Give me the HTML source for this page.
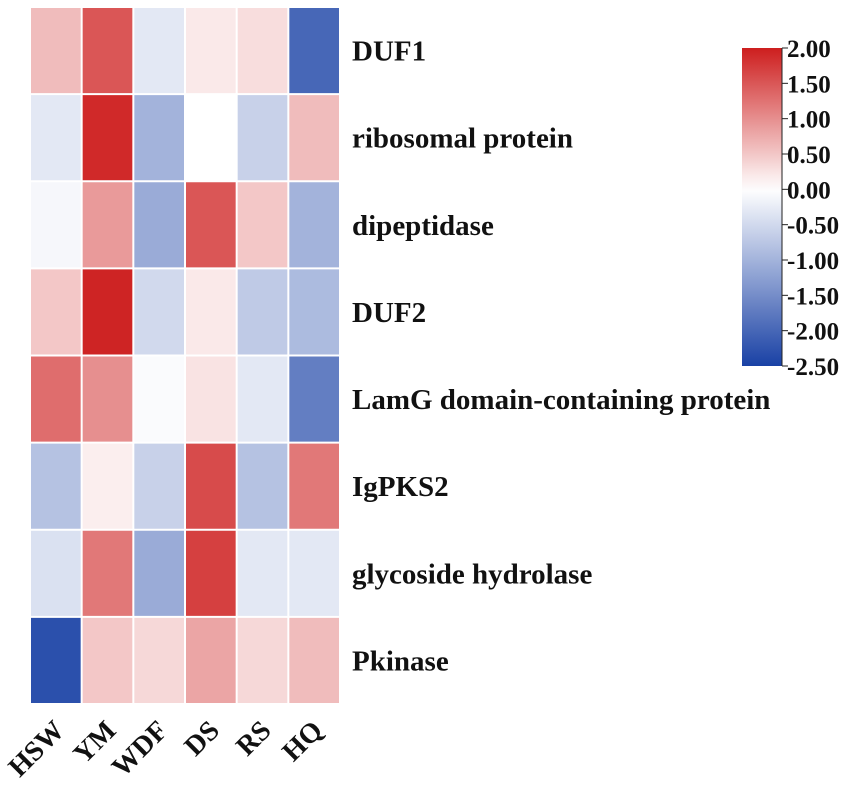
<!DOCTYPE html>
<html><head><meta charset="utf-8"><style>
body{margin:0;background:#fff;}
svg text{font-family:"Liberation Serif",serif;font-weight:bold;fill:#111;}
</style></head><body>
<svg id="chart" width="851" height="786" xmlns="http://www.w3.org/2000/svg"></svg>
<script>
const columns = ["HSW","YM","WDF","DS","RS","HQ"];
const rows = ["DUF1","ribosomal protein","dipeptidase","DUF2","LamG domain-containing protein","IgPKS2","glycoside hydrolase","Pkinase"];
const values = [
 [0.6, 1.5, -0.3, 0.2, 0.3, -2.0],
 [-0.3, 1.9, -1.0, 0.0, -0.6, 0.6],
 [-0.1, 0.9, -1.1, 1.5, 0.5, -1.0],
 [0.5, 1.95, -0.5, 0.2, -0.7, -0.9],
 [1.3, 1.0, -0.05, 0.25, -0.3, -1.7],
 [-0.8, 0.15, -0.6, 1.6, -0.8, 1.2],
 [-0.4, 1.2, -1.1, 1.7, -0.3, -0.3],
 [-2.3, 0.5, 0.35, 0.8, 0.35, 0.6]
];
const cbTicks = [2.0,1.5,1.0,0.5,0.0,-0.5,-1.0,-1.5,-2.0,-2.5];
const vMin=-2.5, vMax=2.0;
const NS="http://www.w3.org/2000/svg";
const svg=document.getElementById('chart');
const gx0=30, gx1=340, gy0=7, gy1=704;
const cw=(gx1-gx0)/columns.length, ch=(gy1-gy0)/rows.length;
function mix(a,b,t){return a.map((v,i)=>Math.round(v+(b[i]-v)*t));}
function color(v){
  const w=[255,255,255];
  let c;
  if(v>=0) c=mix(w,[205,30,30],Math.min(v/vMax,1));
  else c=mix(w,[25,65,165],Math.min(v/vMin,1));
  return `rgb(${c[0]},${c[1]},${c[2]})`;
}
function el(tag,attrs){const e=document.createElementNS(NS,tag);for(const k in attrs)e.setAttribute(k,attrs[k]);svg.appendChild(e);return e;}
values.forEach((row,r)=>row.forEach((v,c)=>{
  const e=el('rect',{x:gx0+c*cw+1,y:gy0+r*ch+1,width:cw-2,height:ch-2,fill:color(v)});
  
  
}));
rows.forEach((name,r)=>{
  const t=el('text',{x:352,y:gy0+(r+0.5)*ch+10,'font-size':29});
  t.textContent=name;
  
  
});
columns.forEach((name,c)=>{
  const cx=gx0+(c+0.5)*cw+10, cy=732;
  const t=el('text',{x:cx,y:cy,'font-size':28,'text-anchor':'end',transform:`rotate(-45 ${cx} ${cy})`});
  t.textContent=name;
  
  
});
const cbx=742, cbw=40, cby0=48, cby1=366;
const defs=el('defs',{});
const lg=document.createElementNS(NS,'linearGradient');
lg.setAttribute('id','cbg');lg.setAttribute('x1','0');lg.setAttribute('y1','0');lg.setAttribute('x2','0');lg.setAttribute('y2','1');
defs.appendChild(lg);
for(let i=0;i<=20;i++){
  const v=vMax-(vMax-vMin)*i/20;
  const s=document.createElementNS(NS,'stop');
  s.setAttribute('offset',(i/20));s.setAttribute('stop-color',color(v));lg.appendChild(s);
}
const cb=el('rect',{x:cbx,y:cby0,width:cbw,height:cby1-cby0,fill:'url(#cbg)'});


el('line',{x1:cbx+cbw,y1:cby0,x2:cbx+cbw,y2:cby1,stroke:'#222','stroke-width':1});
function ty(v){return cby0+(vMax-v)/(vMax-vMin)*(cby1-cby0);}
cbTicks.forEach(v=>{
  el('line',{x1:cbx+cbw,y1:ty(v),x2:cbx+cbw+6,y2:ty(v),stroke:'#222','stroke-width':1});
  const t=el('text',{x:cbx+cbw+5,y:ty(v)+9,'font-size':25});
  t.textContent=v.toFixed(2);
  
  
});
</script>
</body></html>
